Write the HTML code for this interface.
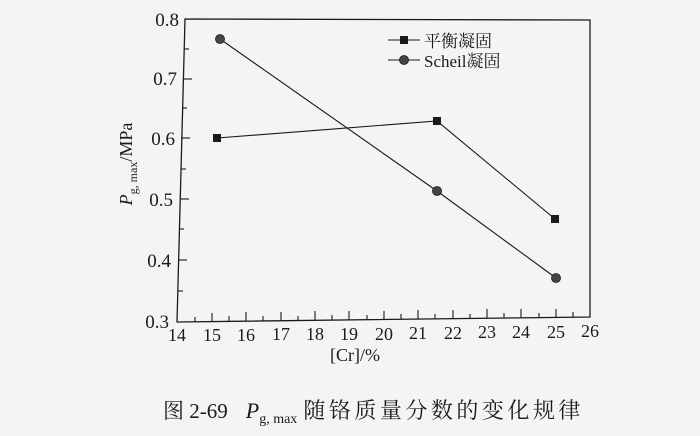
<!DOCTYPE html>
<html><head><meta charset="utf-8"><style>
html,body{margin:0;padding:0;background:#f4f4f2;}
svg{display:block;}
text{font-family:"Liberation Serif","Noto Serif CJK SC",serif;fill:#1a1a1a;}
</style></head><body>
<svg width="700" height="436" viewBox="0 0 700 436" xmlns="http://www.w3.org/2000/svg">
<rect width="700" height="436" fill="#f4f4f2"/>
<g stroke="#1a1a1a" stroke-width="1.3" fill="none">
<path d="M185,19 L590,20 L590,317 L177,322 Z"/>
</g>
<g stroke="#1a1a1a" stroke-width="1.1">
<line x1="212" y1="322" x2="212" y2="313"/>
<line x1="246" y1="321" x2="246" y2="312"/>
<line x1="281" y1="321" x2="281" y2="312"/>
<line x1="315" y1="320" x2="315" y2="311"/>
<line x1="349" y1="320" x2="349" y2="311"/>
<line x1="384" y1="320" x2="384" y2="311"/>
<line x1="418" y1="319" x2="418" y2="310"/>
<line x1="453" y1="319" x2="453" y2="310"/>
<line x1="487" y1="318" x2="487" y2="309"/>
<line x1="521" y1="318" x2="521" y2="309"/>
<line x1="556" y1="318" x2="556" y2="309"/>
<line x1="195" y1="322" x2="195" y2="317"/>
<line x1="229" y1="321" x2="229" y2="316"/>
<line x1="263" y1="321" x2="263" y2="316"/>
<line x1="298" y1="321" x2="298" y2="316"/>
<line x1="332" y1="320" x2="332" y2="315"/>
<line x1="367" y1="320" x2="367" y2="315"/>
<line x1="401" y1="319" x2="401" y2="314"/>
<line x1="435" y1="319" x2="435" y2="314"/>
<line x1="470" y1="319" x2="470" y2="314"/>
<line x1="504" y1="318" x2="504" y2="313"/>
<line x1="539" y1="318" x2="539" y2="313"/>
<line x1="573" y1="317" x2="573" y2="312"/>
<line x1="183" y1="79" x2="192" y2="79"/>
<line x1="181" y1="138" x2="190" y2="138"/>
<line x1="180" y1="199" x2="189" y2="199"/>
<line x1="178" y1="260" x2="187" y2="260"/>
<line x1="184" y1="49" x2="189" y2="49"/>
<line x1="182" y1="108" x2="187" y2="108"/>
<line x1="181" y1="169" x2="186" y2="169"/>
<line x1="179" y1="229" x2="184" y2="229"/>
<line x1="178" y1="291" x2="183" y2="291"/>
</g>
<g stroke="#1a1a1a" stroke-width="1.1" fill="none">
<polyline points="217,138 437,121 555,219"/>
<polyline points="220,39 437,191 556,278"/>
<line x1="388" y1="40" x2="420" y2="40"/>
<line x1="388" y1="60" x2="420" y2="60"/>
</g>
<g fill="#1a1a1a">
<rect x="213" y="134" width="8" height="8"/>
<rect x="433" y="117" width="8" height="8"/>
<rect x="551" y="215" width="8" height="8"/>
<rect x="400" y="36" width="8" height="8"/>
</g>
<g fill="#444" stroke="#1a1a1a" stroke-width="0.8">
<circle cx="220" cy="39" r="4.5"/>
<circle cx="437" cy="191" r="4.5"/>
<circle cx="556" cy="278" r="4.5"/>
<circle cx="404" cy="60" r="4.5"/>
</g>
<g font-size="17">
<text x="424" y="47">平衡凝固</text>
<text x="424" y="67">Scheil凝固</text>
</g>
<g font-size="19" text-anchor="end">
<text x="179" y="26">0.8</text>
<text x="177" y="85">0.7</text>
<text x="175" y="145">0.6</text>
<text x="173" y="206">0.5</text>
<text x="171" y="267">0.4</text>
<text x="169" y="328">0.3</text>
</g>
<g font-size="18" text-anchor="middle">
<text x="177" y="341">14</text><text x="212" y="341">15</text><text x="246" y="341">16</text>
<text x="281" y="340">17</text><text x="315" y="340">18</text><text x="349" y="340">19</text>
<text x="384" y="340">20</text><text x="418" y="339">21</text><text x="453" y="339">22</text>
<text x="487" y="338">23</text><text x="521" y="338">24</text><text x="556" y="338">25</text>
<text x="590" y="337">26</text>
</g>
<text x="355" y="361" font-size="18" text-anchor="middle">[Cr]/%</text>
<g transform="translate(132,164) rotate(-90)">
<text x="0" y="0" font-size="18" text-anchor="middle"><tspan font-style="italic">P</tspan><tspan font-size="12" dy="5">g, max</tspan><tspan dy="-5">/MPa</tspan></text>
</g>
<text x="163" y="418" font-size="21" font-family="'Noto Serif CJK SC','Liberation Serif',serif">图 2-69<tspan dx="18" font-family="'Liberation Serif',serif" font-style="italic" font-size="22">P</tspan><tspan font-size="14" dy="5" font-family="'Liberation Serif',serif">g, max</tspan><tspan dy="-5" dx="6" font-size="22" letter-spacing="3.5">随铬质量分数的变化规律</tspan></text>
</svg>
</body></html>
